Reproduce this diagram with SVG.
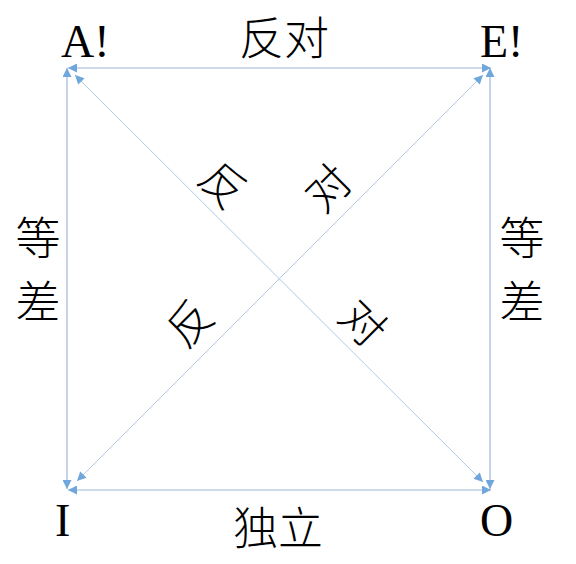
<svg xmlns="http://www.w3.org/2000/svg" width="576" height="564" viewBox="0 0 576 564">
<style>
.ln{stroke:#9fb8d6;stroke-width:1.2;fill:none;marker-start:url(#ah);marker-end:url(#ah)}
.dg{stroke:#b0c9e4;stroke-width:1;fill:none;marker-start:url(#ah);marker-end:url(#ah)}
.lat{font-family:"Liberation Serif","Times New Roman",serif;font-size:46px;font-weight:normal;fill:#000}
.cjk{font-family:"Noto Sans CJK SC","Noto Sans CJK JP",sans-serif;font-size:45px;font-weight:300;fill:#000;text-anchor:middle}
.rot{font-family:"Noto Sans CJK SC","Noto Sans CJK JP",sans-serif;font-size:44px;font-weight:300;fill:#000;text-anchor:middle}
</style>
<defs>
<marker id="ah" viewBox="0 0 10 10" refX="10" refY="5" markerWidth="10" markerHeight="9" markerUnits="userSpaceOnUse" orient="auto-start-reverse">
<path d="M0,0 L10,5 L0,10 z" fill="#6fa6dc"/>
</marker>
</defs>
<rect width="576" height="564" fill="#fff"/>
<g id="connectors">
<line class="ln" x1="68" y1="68" x2="491" y2="68"/>
<line class="ln" x1="68" y1="490" x2="491" y2="490"/>
<line class="ln" x1="67" y1="68" x2="67" y2="489"/>
<line class="ln" x1="490" y1="68" x2="490" y2="489"/>
<line class="dg" x1="75" y1="75" x2="483" y2="482"/>
<line class="dg" x1="77" y1="481" x2="483" y2="75"/>
</g>
<g id="node-A"><text class="lat" x="61" y="57">A!</text></g>
<g id="node-E"><text class="lat" x="480" y="57">E!</text></g>
<g id="node-I"><text class="lat" x="55" y="536">I</text></g>
<g id="node-O"><text class="lat" x="480" y="536">O</text></g>
<g id="label-top"><text class="cjk" x="284" y="55">反对</text></g>
<g id="label-bottom"><text class="cjk" x="278" y="545">独立</text></g>
<g id="label-left"><text class="cjk" x="38" y="255">等</text><text class="cjk" x="38" y="319">差</text></g>
<g id="label-right"><text class="cjk" x="522" y="255">等</text><text class="cjk" x="522" y="319">差</text></g>
<g id="label-diag1">
<text class="rot" transform="translate(223,185) rotate(45)" y="16">反</text>
<text class="rot" transform="translate(363,323) rotate(45)" y="16">对</text>
</g>
<g id="label-diag2">
<text class="rot" transform="translate(190,323) rotate(-45)" y="16">反</text>
<text class="rot" transform="translate(328,188) rotate(-45)" y="16">对</text>
</g>
</svg>
